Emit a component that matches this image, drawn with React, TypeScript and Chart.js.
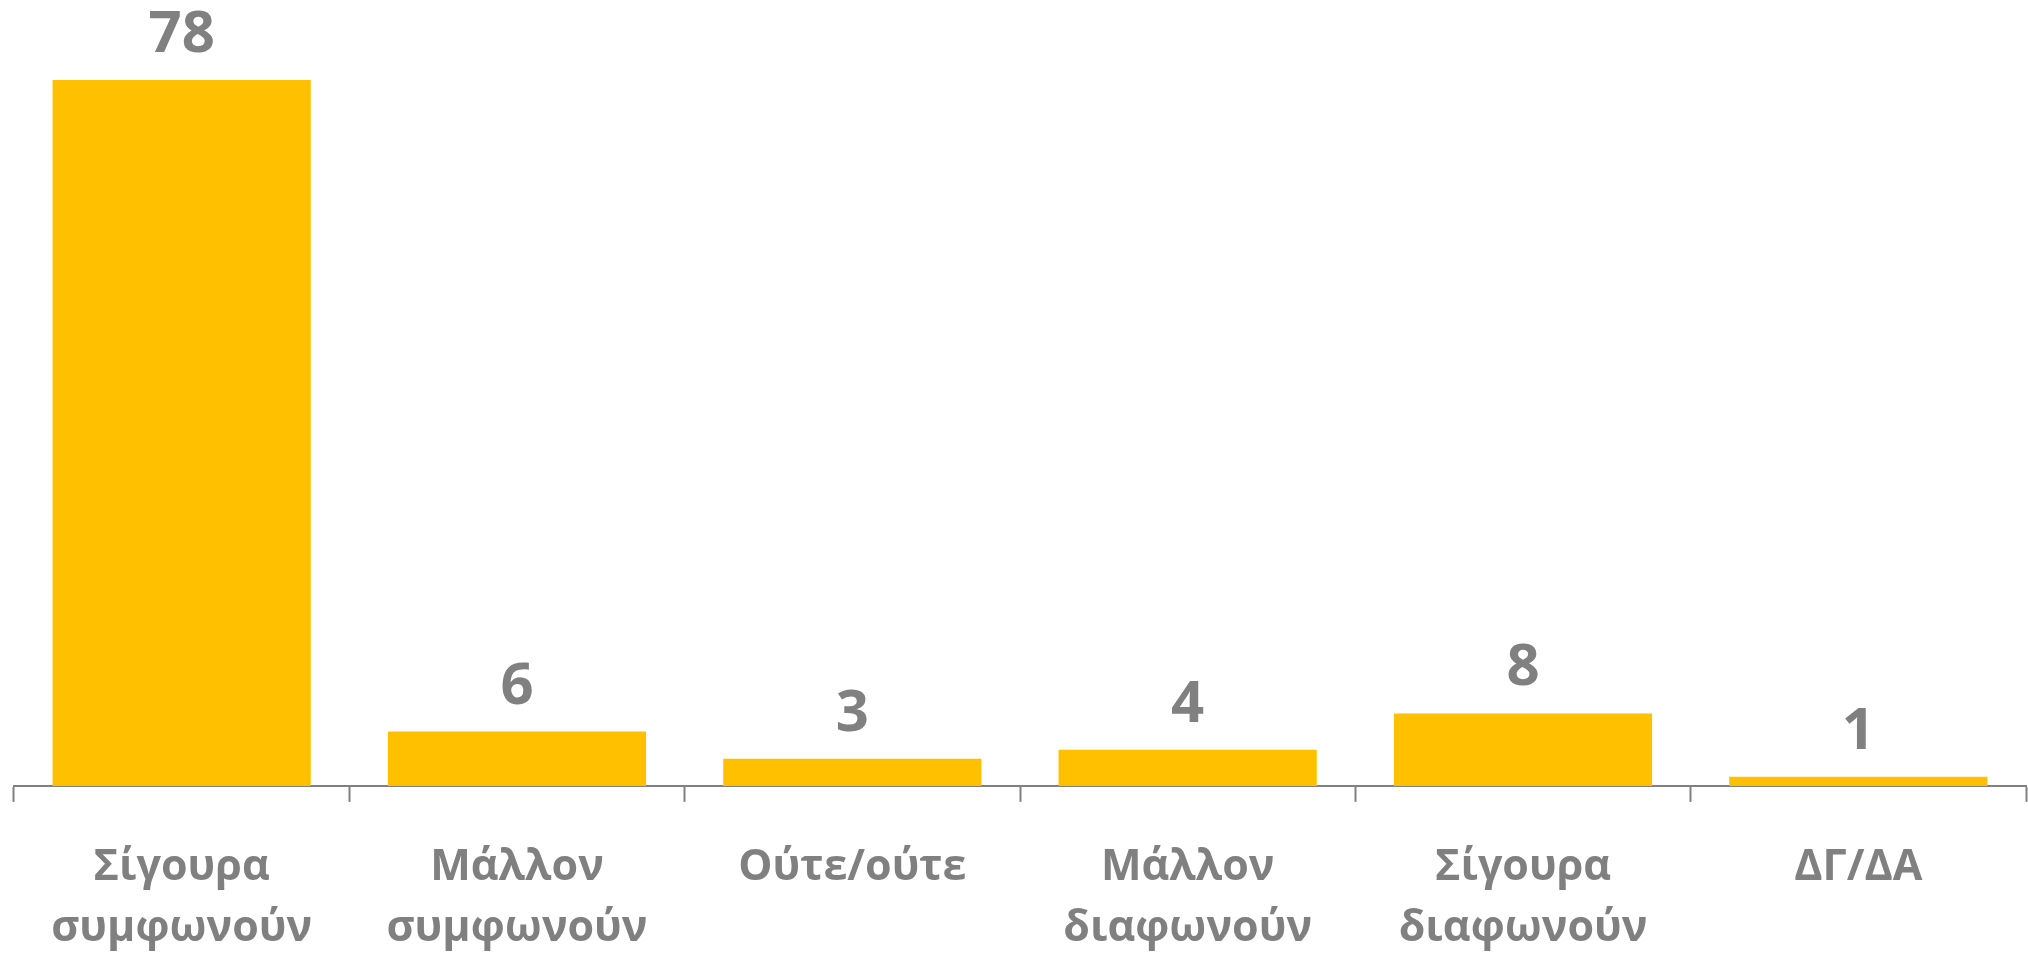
import React, { useEffect, useRef } from "react";
import { Chart, registerables } from "chart.js";

Chart.register(...registerables);

const categories: string[][] = [
  ["Σίγουρα", "συμφωνούν"],
  ["Μάλλον", "συμφωνούν"],
  ["Ούτε/ούτε"],
  ["Μάλλον", "διαφωνούν"],
  ["Σίγουρα", "διαφωνούν"],
  ["ΔΓ/ΔΑ"],
];
const values: number[] = [78, 6, 3, 4, 8, 1];

const GRAY = "#808080";
const BAR = "#FFC000";

const valueLabels = {
  id: "valueLabels",
  afterDatasetsDraw(chart: any) {
    const ctx = chart.ctx;
    const meta = chart.getDatasetMeta(0);
    ctx.save();
    ctx.font = "700 58px 'Open Sans'";
    ctx.fillStyle = GRAY;
    ctx.textAlign = "center";
    ctx.textBaseline = "alphabetic";
    meta.data.forEach((bar: any, i: number) => {
      ctx.fillText(String(values[i]), bar.x, bar.y - 28);
    });
    ctx.restore();
  },
};

export default function App() {
  const ref = useRef<HTMLCanvasElement>(null);
  useEffect(() => {
    if (!ref.current) return;
    const chart = new Chart(ref.current, {
      type: "bar",
      data: {
        labels: categories,
        datasets: [
          {
            data: values,
            backgroundColor: BAR,
            borderWidth: 0,
            categoryPercentage: 1,
            barPercentage: 0.77,
          },
        ],
      },
      options: {
        animation: false,
        responsive: false,
        maintainAspectRatio: false,
        layout: { padding: { top: 62, left: 14, right: 2, bottom: -36 } },
        plugins: { legend: { display: false }, tooltip: { enabled: false } },
        scales: {
          y: { display: false, min: 0, max: 80 },
          x: {
            grid: {
              offset: true,
              drawOnChartArea: false,
              drawTicks: true,
              tickLength: 16,
              tickWidth: 2,
              tickColor: GRAY,
            },
            border: { display: true, color: GRAY, width: 2 },
            ticks: {
              color: GRAY,
              padding: 35,
              maxRotation: 0,
              autoSkip: false,
              font: { family: "'Open Sans'", size: 43, weight: "bold", lineHeight: 1.42 },
            },
          },
        },
      },
      plugins: [valueLabels],
    });
    return () => chart.destroy();
  }, []);
  return (
    <div style={{ position: "fixed", left: 0, top: 0, width: 2028, height: 958, background: "#fff" }}>
      <canvas ref={ref} width={2028} height={958} style={{ width: 2028, height: 958 }} />
    </div>
  );
}
